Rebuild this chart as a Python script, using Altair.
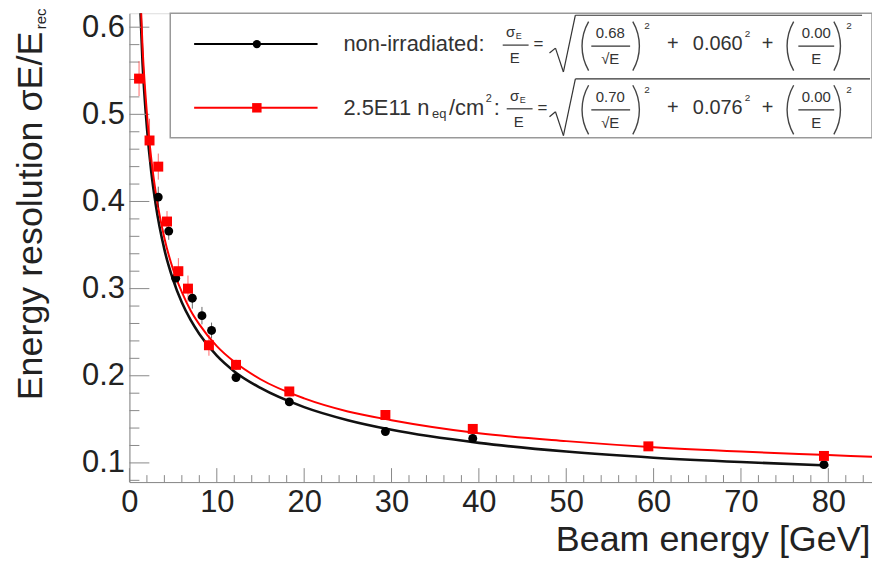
import altair as alt
import pandas as pd

FONT = "Liberation Sans"

# ---- fit curves, values ----
curve_E_black = [1.0, 1.5, 2, 2.5, 3, 4, 5, 6, 7, 8, 10, 12, 15, 20, 25, 30, 40, 50, 60, 70, 80]
curve_black = [0.683, 0.559, 0.485, 0.434, 0.397, 0.345, 0.310, 0.284, 0.264, 0.248, 0.223,
               0.205, 0.186, 0.164, 0.149, 0.138, 0.123, 0.113, 0.106, 0.101, 0.097]
curve_E_red = [1.0, 1.5, 2, 2.5, 3, 4, 5, 6, 7, 8, 10, 12, 15, 20, 25, 30, 40, 50, 60, 70, 80, 85]
curve_red = [0.704, 0.577, 0.501, 0.449, 0.411, 0.358, 0.322, 0.296, 0.275, 0.259, 0.234,
             0.216, 0.196, 0.174, 0.159, 0.149, 0.134, 0.125, 0.118, 0.113, 0.109, 0.107]

# ---- measured points ----
E_black = [3.3, 4.5, 5.3, 7.2, 8.3, 9.4, 12.2, 18.3, 29.3, 39.3, 79.5]
res_black = [0.405, 0.366, 0.312, 0.289, 0.269, 0.252, 0.198, 0.170, 0.136, 0.128, 0.098]
err_black = [0.012, 0.010, 0.012, 0.012, 0.010, 0.009, 0.005, 0.004, 0.004, 0.004, 0.003]

E_red = [1.1, 2.3, 3.3, 4.3, 5.6, 6.7, 9.1, 12.2, 18.3, 29.3, 39.3, 59.4, 79.5]
res_red = [0.541, 0.470, 0.440, 0.377, 0.320, 0.300, 0.235, 0.2125, 0.182, 0.155, 0.139, 0.119, 0.108]
err_red = [0.020, 0.025, 0.015, 0.012, 0.015, 0.015, 0.012, 0.006, 0.005, 0.004, 0.005, 0.004, 0.004]

# ---- axis ticks ----
x_major = [0, 10, 20, 30, 40, 50, 60, 70, 80]
x_minor = [v for v in range(2, 85, 2) if v % 10 != 0]
y_major = [0.1, 0.2, 0.3, 0.4, 0.5, 0.6]
y_minor = [round(0.08 + 0.02 * i, 2) for i in range(27) if round((0.08 + 0.02 * i) * 100) % 10 != 0]

W, H = 746, 471
OX, OY = 130, 12  # page position of plot origin (for legend annotations)

xs = alt.Scale(domain=[0, 85], nice=False, zero=False)
ys = alt.Scale(domain=[0.078, 0.616], nice=False, zero=False)

AXC = "#888888"
TXT = "#222222"

ax_x_main = alt.Axis(orient="bottom", values=x_major, format="d", labelFontSize=31, labelFont=FONT,
                     labelColor=TXT, labelPadding=6, labelFlush=False, labelOverlap=False,
                     ticks=False, domainColor=AXC, domainWidth=1, grid=False,
                     title="Beam energy [GeV]", titleFont=FONT, titleFontSize=36,
                     titleFontWeight="normal", titleColor=TXT, titleX=744, titleY=69,
                     titleAlign="right", titleBaseline="alphabetic")
ax_y_main = alt.Axis(orient="left", values=y_major, format=".1f", labelFontSize=31, labelFont=FONT,
                     labelColor=TXT, labelPadding=5, labelFlush=False, labelOverlap=False,
                     ticks=False, domainColor=AXC, domainWidth=1, grid=False,
                     title="Energy resolution σE/E", titleFont=FONT, titleFontSize=36,
                     titleFontWeight="normal", titleColor=TXT, titleX=-88, titleY=18,
                     titleAlign="right", titleBaseline="alphabetic", titleAngle=270)

dfcb = pd.DataFrame({"E": curve_E_black, "r": curve_black})
dfcr = pd.DataFrame({"E": curve_E_red, "r": curve_red})
dfb = pd.DataFrame({"E": E_black, "r": res_black, "err": err_black})
dfr = pd.DataFrame({"E": E_red, "r": res_red, "err": err_red})
for d in (dfb, dfr):
    d["lo"] = d["r"] - d["err"]
    d["hi"] = d["r"] + d["err"]

line_b = alt.Chart(dfcb).mark_line(color="#111111", strokeWidth=2.6, clip=True, interpolate="monotone").encode(
    x=alt.X("E:Q", scale=xs, axis=ax_x_main), y=alt.Y("r:Q", scale=ys, axis=ax_y_main))

# inward ticks drawn through the scales from the tick lists
xt_major = alt.Chart(pd.DataFrame({"t": x_major})).mark_rule(color=AXC, strokeWidth=1).encode(
    x=alt.X("t:Q", scale=xs, axis=None), y=alt.value(H), y2=alt.value(H - 14))
xt_minor = alt.Chart(pd.DataFrame({"t": x_minor})).mark_rule(color=AXC, strokeWidth=1).encode(
    x=alt.X("t:Q", scale=xs, axis=None), y=alt.value(H), y2=alt.value(H - 7))
yt_major = alt.Chart(pd.DataFrame({"t": y_major})).mark_rule(color=AXC, strokeWidth=1).encode(
    y=alt.Y("t:Q", scale=ys, axis=None), x=alt.value(0), x2=alt.value(20))
yt_minor = alt.Chart(pd.DataFrame({"t": y_minor})).mark_rule(color=AXC, strokeWidth=1).encode(
    y=alt.Y("t:Q", scale=ys, axis=None), x=alt.value(0), x2=alt.value(10))

line_r = alt.Chart(dfcr).mark_line(color="#ff0000", strokeWidth=2, clip=True, interpolate="monotone").encode(
    x=alt.X("E:Q", scale=xs, axis=None), y=alt.Y("r:Q", scale=ys, axis=None))
err_b = alt.Chart(dfb).mark_rule(color="#000000", strokeWidth=1, opacity=0.6).encode(
    x=alt.X("E:Q", scale=xs, axis=None), y=alt.Y("lo:Q", scale=ys, axis=None), y2="hi:Q")
err_r = alt.Chart(dfr).mark_rule(color="#ff0000", strokeWidth=1, opacity=0.6).encode(
    x=alt.X("E:Q", scale=xs, axis=None), y=alt.Y("lo:Q", scale=ys, axis=None), y2="hi:Q")
pts_b = alt.Chart(dfb).mark_point(shape="circle", filled=True, size=80, color="#000000", opacity=1).encode(
    x=alt.X("E:Q", scale=xs, axis=None), y=alt.Y("r:Q", scale=ys, axis=None))
pts_r = alt.Chart(dfr).mark_point(shape="square", filled=True, size=100, color="#ff0000", opacity=1).encode(
    x=alt.X("E:Q", scale=xs, axis=None), y=alt.Y("r:Q", scale=ys, axis=None))

one = pd.DataFrame({"k": [0]})


def T(s, px, py, size, align="center", color="#333333", angle=None, baseline="middle"):
    kw = dict(align=align, baseline=baseline, fontSize=size, color=color, font=FONT)
    if angle is not None:
        kw["angle"] = angle
    return alt.Chart(one).mark_text(**kw).encode(
        x=alt.value(px - OX), y=alt.value(py - OY), text=alt.value(s))


def S(x1, y1, x2, y2, color="#333333", w=1.2):
    return alt.Chart(one).mark_rule(color=color, strokeWidth=w).encode(
        x=alt.value(x1 - OX), y=alt.value(y1 - OY), x2=alt.value(x2 - OX), y2=alt.value(y2 - OY))


def P(px_edge, cy, left=True, R=50):
    # thin tall parenthesis drawn as a narrow ring sector
    if left:
        cx, t1, t2 = px_edge + R, 4.189, 5.236
    else:
        cx, t1, t2 = px_edge - R, 1.047, 2.094
    return alt.Chart(one).mark_arc(color="#444444").encode(
        x=alt.value(cx - OX), y=alt.value(cy - OY), theta=alt.value(t1), theta2=alt.value(t2),
        radius=alt.value(R), radius2=alt.value(R - 1.4))


ann = []
# y-title subscript
ann.append(T("rec", 46, 28, 15, align="left", color=TXT, angle=270, baseline="alphabetic"))

# legend box
ann.append(alt.Chart(one).mark_rect(fill="white", stroke="#999999", strokeWidth=1.5).encode(
    x=alt.value(171 - OX), x2=alt.value(876 - OX), y=alt.value(12 - OY), y2=alt.value(137 - OY)))


def formula_row(cy, a_txt, b_txt, dx_eq, over_end):
    items = []
    # sigma_E / E
    items.append(T("σ", 513 + dx_eq, cy - 12, 15))
    items.append(T("E", 521 + dx_eq, cy - 8, 9))
    items.append(S(505 + dx_eq, cy + 1, 531 + dx_eq, cy + 1))
    items.append(T("E", 517 + dx_eq, cy + 14, 15))
    items.append(T("=", 541 + dx_eq, cy, 17))
    # square root
    items.append(S(552, cy + 9, 558, cy + 4))
    items.append(S(558, cy + 4, 566, cy + 28))
    items.append(S(566, cy + 28, 578, cy - 29))
    items.append(S(578, cy - 29, over_end, cy - 29))
    # (a / sqrt E)^2
    items.append(P(584, cy + 2, left=True))
    items.append(T(a_txt, 613, cy - 11, 15))
    items.append(S(594, cy + 2, 633, cy + 2))
    items.append(T("√E", 613, cy + 15, 15))
    items.append(P(643, cy + 2, left=False))
    items.append(T("2", 650, cy - 18, 10))
    # + b^2 +
    items.append(T("+", 676, cy, 20))
    items.append(T(b_txt, 746, cy, 20, align="right"))
    items.append(T("2", 751, cy - 10, 10))
    items.append(T("+", 771, cy, 20))
    # (c / E)^2
    items.append(P(790, cy + 2, left=True))
    items.append(T("0.00", 820, cy - 11, 15))
    items.append(S(802, cy + 2, 838, cy + 2))
    items.append(T("E", 820, cy + 15, 15))
    items.append(P(845, cy + 2, left=False))
    items.append(T("2", 853, cy - 18, 10))
    return items


# row 1: non-irradiated
cy1 = 43
ann.append(S(195, cy1, 319, cy1, color="#000000", w=2))
ann.append(alt.Chart(one).mark_point(shape="circle", filled=True, size=70, color="#000000", opacity=1).encode(
    x=alt.value(258 - OX), y=alt.value(cy1 - OY)))
ann.append(T("non-irradiated:", 345, cy1, 22, align="left"))
ann += formula_row(cy1, "0.68", "0.060", 0, 866)

# row 2: irradiated
cy2 = 107
ann.append(S(195, cy2, 319, cy2, color="#ff0000", w=2))
ann.append(alt.Chart(one).mark_point(shape="square", filled=True, size=90, color="#ff0000", opacity=1).encode(
    x=alt.value(258 - OX), y=alt.value(cy2 - OY)))
ann.append(T("2.5E11 n", 345, cy2, 22, align="left"))
ann.append(T("eq", 434, cy2 + 6, 13, align="left"))
ann.append(T("/cm", 451, cy2, 22, align="left"))
ann.append(T("2", 488, cy2 - 9, 11, align="left"))
ann.append(T(":", 496, cy2, 22, align="left"))
ann += formula_row(cy2, "0.70", "0.076", 4, 874)

chart = alt.layer(line_b, xt_minor, xt_major, yt_minor, yt_major, line_r, err_b, err_r, pts_b, pts_r,
                  *ann).resolve_scale(x="shared", y="shared").resolve_axis(
    x="independent", y="independent").properties(
    width=W, height=H, autosize=alt.AutoSizeParams(type="none"),
    padding={"left": 122, "top": 4, "right": 0, "bottom": 75}).configure_view(
    stroke=AXC, strokeWidth=1).configure(font=FONT)

chart.save("out.html", embed_options={"renderer": "svg", "actions": False})
